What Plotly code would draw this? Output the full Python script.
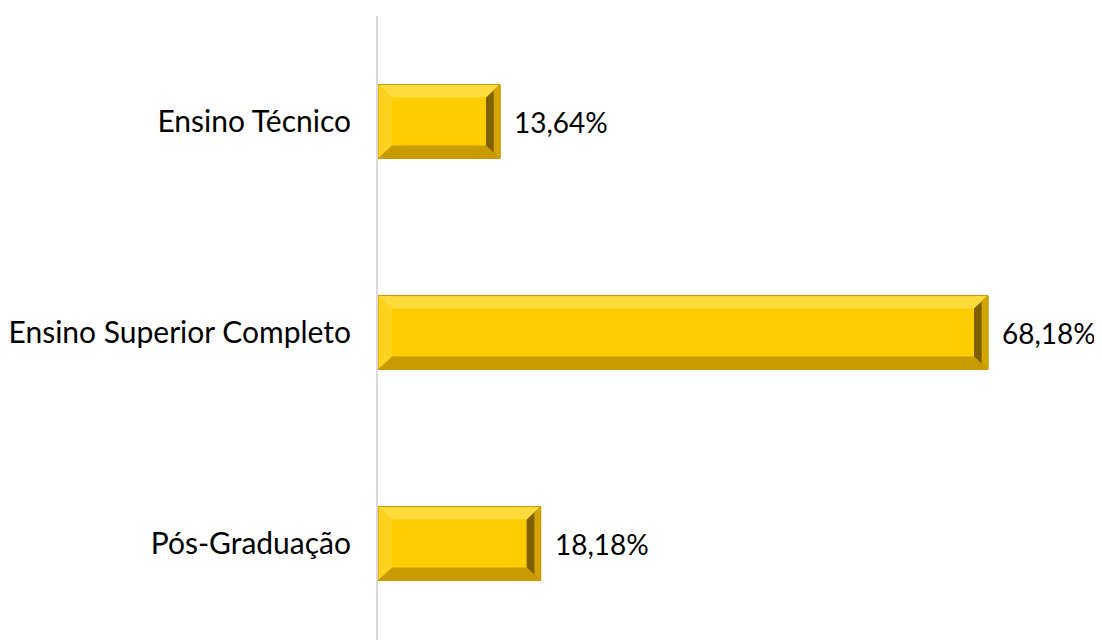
import plotly.graph_objects as go

categories = ["Ensino Técnico", "Ensino Superior Completo", "Pós-Graduação"]
values = [13.64, 68.18, 18.18]
labels = [f"{v:.2f}".replace(".", ",") + "%" for v in values]

# page body has an 8px default margin, so the figure is drawn 8px in
OFF = 8
W, H = 1102 - OFF, 640 - OFF
ml, mt = 378 - OFF, 16 - OFF
px_per_unit = 610 / 68.18
xmax = (W - ml) / px_per_unit
band = 211.0
ypos = list(range(len(categories)))
ytop = -0.5
ybot = ytop + (H - mt) / band
bar_w = 0.35
half = bar_w / 2
bx = 14 / px_per_unit   # bevel horizontal, data units
by = 13 / band          # bevel vertical, data units

FONT = "Lato, Open Sans, sans-serif"

fig = go.Figure()
fig.add_trace(go.Bar(
    x=values, y=ypos, orientation="h", width=bar_w,
    marker=dict(color="#FFCC00", line=dict(color="#C99A00", width=1)),
    hoverinfo="skip", showlegend=False,
))

shapes = []
def poly(pts, color):
    d = "M " + " L ".join(f"{x},{y}" for x, y in pts) + " Z"
    shapes.append(dict(type="path", path=d, xref="x", yref="y",
                       fillcolor=color, line=dict(width=0), layer="above"))

for v, y in zip(values, ypos):
    t, b = y - half, y + half
    poly([(0, t), (v, t), (v - bx, t + by), (bx, t + by)], "#FFDB3D")
    poly([(0, t), (bx, t + by), (bx, b - by), (0, b)], "#FFD21F")
    poly([(0, b), (bx, b - by), (v - bx, b - by), (v, b)], "#C89B00")
    poly([(v, t), (v, b), (v - bx, b - by), (v - bx, t + by)], "#7E6000")
    poly([(v, t), (v, b), (v - bx * 0.45, b - by * 0.45), (v - bx * 0.45, t + by * 0.45)], "#D4A400")
    shapes.append(dict(type="rect", xref="x", yref="y", x0=0, x1=v, y0=t, y1=b,
                       line=dict(color="#C99A00", width=1), layer="above"))

annotations = [dict(x=v, y=y, xref="x", yref="y", text=lab, showarrow=False,
                    xanchor="left", yanchor="middle", xshift=12,
                    font=dict(family=FONT, size=28, color="#000000"))
               for v, y, lab in zip(values, ypos, labels)]

fig.update_layout(
    width=W, height=H,
    margin=dict(l=ml, r=0, t=mt, b=0, pad=0, autoexpand=False),
    paper_bgcolor="white", plot_bgcolor="white",
    shapes=shapes, annotations=annotations,
    font=dict(family=FONT, size=30, color="#000000"),
    xaxis=dict(range=[0, xmax], visible=False, showgrid=False, zeroline=False, automargin=False),
    yaxis=dict(range=[ybot, ytop], tickvals=ypos, ticktext=categories, automargin=False,
               showline=True, linecolor="#D9D9D9", linewidth=2,
               showgrid=False, zeroline=False, ticks="", ticklabelstandoff=19,
               tickfont=dict(family=FONT, size=30, color="#000000")),
)

fig.write_html("out.html")
